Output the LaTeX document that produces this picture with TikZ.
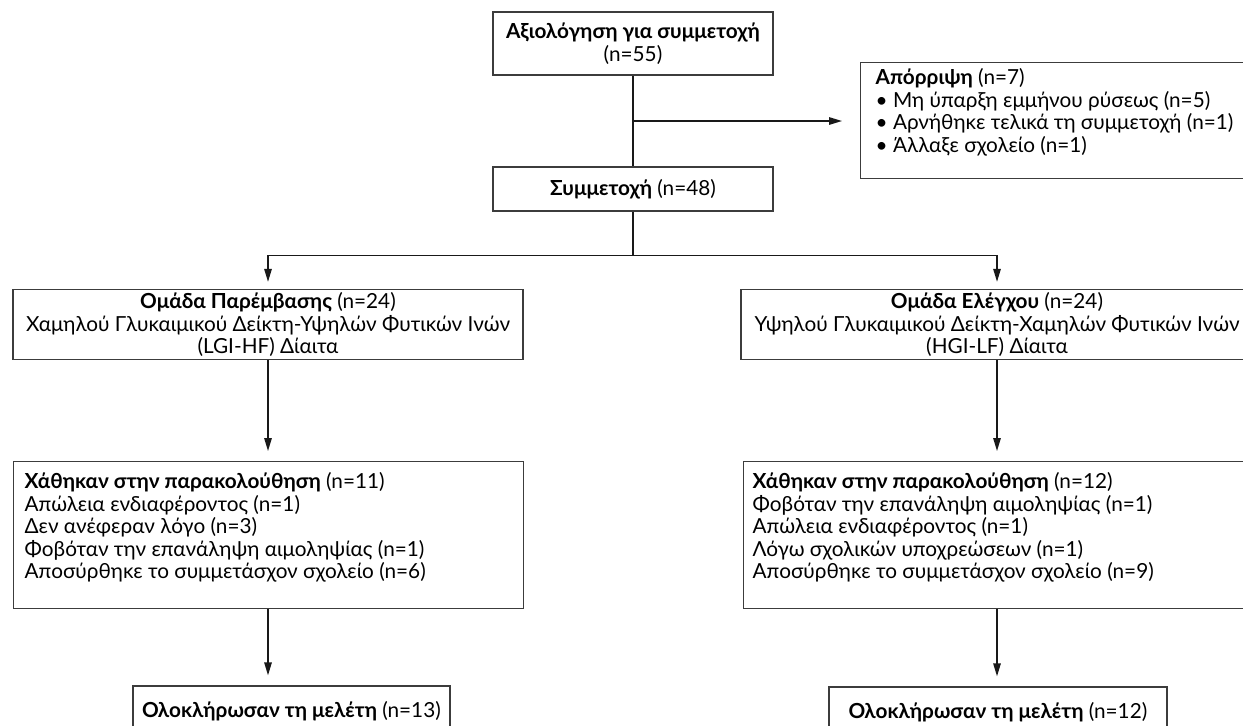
\documentclass[tikz,border=0pt]{standalone}
\usepackage{fontspec}
\setmainfont{Lato}
\usetikzlibrary{arrows.meta,calc}
\definecolor{boxline}{RGB}{60,60,60}
\definecolor{flowline}{RGB}{25,25,25}

\begin{document}
\begin{tikzpicture}[x=0.02cm, y=-0.02cm]
        \tikzstyle{every node} = [font=\fontsize{11.8}{12.8}\selectfont]
        \tikzstyle{stagebox} = [draw=boxline, line width=0.8pt, inner sep=0pt, align=center]
        \tikzstyle{listbox} = [draw=boxline, line width=0.8pt, inner xsep=0.22cm, inner ysep=0.22cm, anchor=north west]
        \tikzstyle{flow} = [draw=flowline, line width=0.8pt]
        \tikzstyle{arrow} = [flow, -{Triangle[length=0.26cm, width=0.15cm]}, shorten >=0.2cm]

        \useasboundingbox (0, 0) rectangle (1243, 725);
        \clip (0, 0) rectangle (1243, 725);

        % top of the flow
        \node[stagebox, minimum width=5.6cm, minimum height=1.26cm] (assess) at (633, 43.5)
            {\textbf{Αξιολόγηση για συμμετοχή}\\(n=55)};
        \node[stagebox, minimum width=5.6cm, minimum height=0.88cm] (part) at (633, 189)
            {\textbf{Συμμετοχή} (n=48)};
        \node[listbox, inner xsep=0.3cm, inner ysep=0.12cm] (excl) at (860, 62)
            {\parbox[c][2.08cm][t]{7.4cm}{\raggedright
            \textbf{Απόρριψη} (n=7)\\
            \textbullet\ Μη ύπαρξη εμμήνου ρύσεως (n=5)\\
            \textbullet\ Αρνήθηκε τελικά τη συμμετοχή (n=1)\\
            \textbullet\ Άλλαξε σχολείο (n=1)}};

        % the two arms
        \node[stagebox, minimum width=10.2cm, minimum height=1.4cm] (intv) at (268, 324.5)
            {\textbf{Ομάδα Παρέμβασης} (n=24)\\
            Χαμηλού Γλυκαιμικού Δείκτη-Υψηλών Φυτικών Ινών\\(LGI-HF) Δίαιτα};
        \node[stagebox, minimum width=10.24cm, minimum height=1.4cm] (ctrl) at (997, 324.5)
            {\textbf{Ομάδα Ελέγχου} (n=24)\\
            Υψηλού Γλυκαιμικού Δείκτη-Χαμηλών Φυτικών Ινών\\(HGI-LF) Δίαιτα};

        \node[listbox] (lostL) at (13, 461)
            {\parbox[c][2.5cm][t]{9.76cm}{\raggedright
            \textbf{Χάθηκαν στην παρακολούθηση} (n=11)\\
            Απώλεια ενδιαφέροντος (n=1)\\
            Δεν ανέφεραν λόγο (n=3)\\
            Φοβόταν την επανάληψη αιμοληψίας (n=1)\\
            Αποσύρθηκε το συμμετάσχον σχολείο (n=6)}};
        \node[listbox, inner xsep=0.18cm] (lostR) at (743, 461)
            {\parbox[c][2.5cm][t]{9.88cm}{\raggedright
            \textbf{Χάθηκαν στην παρακολούθηση} (n=12)\\
            Φοβόταν την επανάληψη αιμοληψίας (n=1)\\
            Απώλεια ενδιαφέροντος (n=1)\\
            Λόγω σχολικών υποχρεώσεων (n=1)\\
            Αποσύρθηκε το συμμετάσχον σχολείο (n=9)}};

        \node[stagebox, minimum width=6.34cm, minimum height=1.0cm] (doneL) at (291.5, 711)
            {\textbf{Ολοκλήρωσαν τη μελέτη} (n=13)};
        \node[stagebox, minimum width=6.76cm, minimum height=1.0cm] (doneR) at (998, 712)
            {\textbf{Ολοκλήρωσαν τη μελέτη} (n=12)};

        % connectors
        \coordinate (split) at ($(assess.south)!0.5!(part.north)$);
        \coordinate (fork) at ($(part.south) + (0, 44)$);
        \draw[flow] (assess) -- (part);
        \draw[arrow, shorten >=0.36cm] (split) -- (split -| excl.west);
        \draw[flow] (part) -- (fork);
        \draw[arrow, shorten >=0.14cm] (fork) -| (intv);
        \draw[arrow, shorten >=0.14cm] (fork) -| (ctrl);
        \draw[arrow] (intv) -- (lostL.north -| intv.south);
        \draw[arrow] (ctrl) -- (lostR.north -| ctrl.south);
        \draw[arrow] (lostL.south -| intv.south) -- (doneL.north -| intv.south);
        \draw[arrow] (lostR.south -| ctrl.south) -- (doneR.north -| ctrl.south);
\end{tikzpicture}
\end{document}
